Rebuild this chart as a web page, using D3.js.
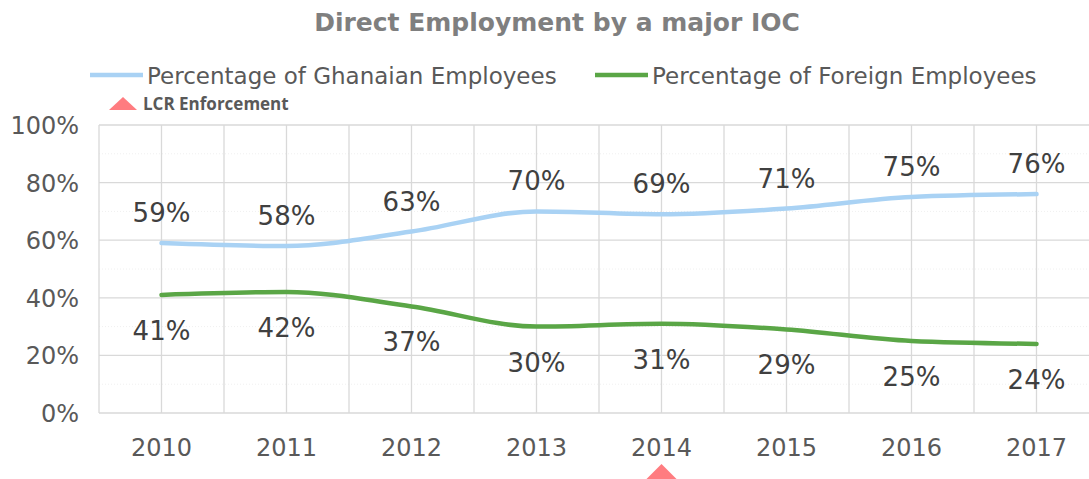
<!DOCTYPE html>
<html lang="en">
<head>
    <meta charset="UTF-8">
    <title>Direct Employment by a major IOC</title>
    <script src="https://d3js.org/d3.v7.min.js"></script>
    <style>
        body { margin: 0; background: #fff; }
    </style>
</head>
<body>
    <svg id="chart" width="1089" height="479"></svg>
    <script>
        const years = ["2010", "2011", "2012", "2013", "2014", "2015", "2016", "2017"];
        const ghanaian = [59, 58, 63, 70, 69, 71, 75, 76];
        const foreign = [41, 42, 37, 30, 31, 29, 25, 24];
        const yTicks = [0, 20, 40, 60, 80, 100];
        const lcrYear = "2014";

        const svg = d3.select("#chart");
        const width = +svg.attr("width");
        const height = +svg.attr("height");

        const margin = { top: 125, right: -10, bottom: 66, left: 99 };
        const plotW = width - margin.left - margin.right;
        const plotH = height - margin.top - margin.bottom;

        const fontMain = "'DejaVu Sans', Verdana, sans-serif";

        const x = d3.scalePoint()
            .domain(years)
            .range([62.5, 62.5 + 125 * (years.length - 1)]);

        const y = d3.scaleLinear()
            .domain([0, 100])
            .range([plotH, 0]);

        // wide flat triangle used for the LCR marker
        function triPath(w, h) {
            return `M0,${-h / 2}L${w / 2},${h / 2}L${-w / 2},${h / 2}Z`;
        }

        const g = svg.append("g")
            .attr("transform", `translate(${margin.left},${margin.top})`);

        // faint minor grid
        g.append("g")
            .selectAll("line")
            .data(d3.range(10, 100, 20))
            .enter()
            .append("line")
            .attr("x1", 0).attr("x2", plotW)
            .attr("y1", d => y(d)).attr("y2", d => y(d))
            .attr("stroke", "#f0f0f0")
            .attr("stroke-dasharray", "1,2");

        // horizontal gridlines
        g.append("g")
            .selectAll("line")
            .data(yTicks)
            .enter()
            .append("line")
            .attr("x1", 0).attr("x2", plotW)
            .attr("y1", d => y(d)).attr("y2", d => y(d))
            .attr("stroke", "#d9d9d9")
            .attr("stroke-width", 1.3);

        // vertical gridlines at every half category
        const vLines = d3.range(0, years.length * 2 + 1).map(i => i * 62.5);
        g.append("g")
            .selectAll("line")
            .data(vLines)
            .enter()
            .append("line")
            .attr("x1", d => d).attr("x2", d => d)
            .attr("y1", 0).attr("y2", plotH)
            .attr("stroke", "#d9d9d9")
            .attr("stroke-width", 1.3);

        // y axis labels
        g.append("g")
            .selectAll("text")
            .data(yTicks)
            .enter()
            .append("text")
            .attr("x", -20)
            .attr("y", d => y(d) + 9)
            .attr("text-anchor", "end")
            .style("font-family", fontMain)
            .style("font-size", "24px")
            .attr("fill", "#595959")
            .text(d => d + "%");

        // x axis labels
        g.append("g")
            .selectAll("text")
            .data(years)
            .enter()
            .append("text")
            .attr("x", d => x(d))
            .attr("y", plotH + 43)
            .attr("text-anchor", "middle")
            .style("font-family", fontMain)
            .style("font-size", "24px")
            .attr("fill", "#595959")
            .text(d => d);

        const line = d3.line()
            .x((d, i) => x(years[i]))
            .y(d => y(d))
            .curve(d3.curveMonotoneX);

        g.append("path")
            .datum(ghanaian)
            .attr("d", line)
            .attr("fill", "none")
            .attr("stroke", "#a9d2f4")
            .attr("stroke-width", 4.5)
            .attr("stroke-linecap", "round");

        g.append("path")
            .datum(foreign)
            .attr("d", line)
            .attr("fill", "none")
            .attr("stroke", "#5aa646")
            .attr("stroke-width", 4.5)
            .attr("stroke-linecap", "round");

        // data labels
        g.append("g")
            .selectAll("text")
            .data(ghanaian)
            .enter()
            .append("text")
            .attr("x", (d, i) => x(years[i]))
            .attr("y", d => y(d) - 21)
            .attr("text-anchor", "middle")
            .style("font-family", fontMain)
            .style("font-size", "26px")
            .attr("fill", "#404040")
            .text(d => d + "%");

        g.append("g")
            .selectAll("text")
            .data(foreign)
            .enter()
            .append("text")
            .attr("x", (d, i) => x(years[i]))
            .attr("y", d => y(d) + 45)
            .attr("text-anchor", "middle")
            .style("font-family", fontMain)
            .style("font-size", "26px")
            .attr("fill", "#404040")
            .text(d => d + "%");

        // LCR marker under the x axis
        g.append("path")
            .attr("d", triPath(32, 16))
            .attr("transform", `translate(${x(lcrYear)},${plotH + 59})`)
            .attr("fill", "#ff7c80");

        // title
        svg.append("text")
            .attr("x", 557)
            .attr("y", 31)
            .attr("text-anchor", "middle")
            .style("font-family", fontMain)
            .style("font-size", "25px")
            .style("font-weight", "bold")
            .attr("fill", "#7f7f7f")
            .text("Direct Employment by a major IOC");

        // legend
        const legend = [
            { name: "Percentage of Ghanaian Employees", color: "#a9d2f4", x: 90 },
            { name: "Percentage of Foreign Employees", color: "#5aa646", x: 595 }
        ];
        const lg = svg.append("g");
        lg.selectAll("line")
            .data(legend)
            .enter()
            .append("line")
            .attr("x1", d => d.x).attr("x2", d => d.x + 53)
            .attr("y1", 75).attr("y2", 75)
            .attr("stroke", d => d.color)
            .attr("stroke-width", 4.5);
        lg.selectAll("text")
            .data(legend)
            .enter()
            .append("text")
            .attr("x", d => d.x + 57)
            .attr("y", 84)
            .style("font-family", fontMain)
            .style("font-size", "23px")
            .attr("fill", "#595959")
            .text(d => d.name);

        svg.append("path")
            .attr("d", triPath(28, 13))
            .attr("transform", "translate(123,103.5)")
            .attr("fill", "#ff7c80");
        svg.append("text")
            .attr("x", 143)
            .attr("y", 110)
            .style("font-family", "'Open Sans', sans-serif")
            .style("font-size", "17px")
            .style("font-weight", "bold")
            .attr("fill", "#595959")
            .text("LCR Enforcement");
    </script>
</body>
</html>
